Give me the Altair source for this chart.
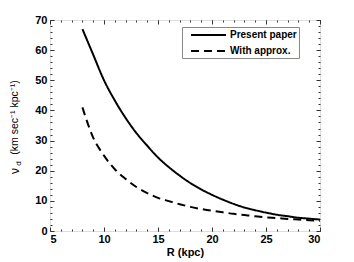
import altair as alt
import pandas as pd

R = [8, 9, 10, 11, 12, 13, 14, 15, 16, 17, 18, 19, 20, 21, 22, 23, 24, 25, 26, 27, 28, 29, 30]
present = [67, 58.5, 50, 43.3, 37.5, 32.5, 28.3, 24.4, 21.2, 18.4, 15.9, 13.8, 12.0, 10.4, 9.0, 7.8, 6.9, 6.1, 5.4, 4.9, 4.4, 4.1, 3.8]
approx = [41, 31, 25, 20.5, 17.3, 14.6, 12.6, 11.0, 9.9, 8.9, 8.0, 7.3, 6.7, 6.2, 5.7, 5.3, 4.9, 4.55, 4.3, 4.0, 3.8, 3.6, 3.4]
series_names = ["Present paper", "With approx."]
x_major = [5, 10, 15, 20, 25, 30]
x_minor = list(range(5, 31))
y_major = [0, 10, 20, 30, 40, 50, 60, 70]
y_minor = list(range(0, 71, 2))

df = pd.DataFrame({
    "R": R * 2,
    "v": present + approx,
    "series": [series_names[0]] * len(R) + [series_names[1]] * len(R),
})
one = pd.DataFrame({"k": [0]})

FONT = "Liberation Sans"
xs = alt.Scale(domain=[5, 30], nice=False, zero=False)
ys = alt.Scale(domain=[0, 70], nice=False)

lines = alt.Chart(df).mark_line(strokeWidth=2, color="black", interpolate="monotone").encode(
    x=alt.X("R:Q", scale=xs, axis=alt.Axis(
        orient="bottom", values=x_major, ticks=False, domain=False, grid=False,
        labelFont=FONT, labelFontWeight="bold", labelFontSize=11, labelColor="black",
        labelPadding=2, title="R (kpc)", titleFont=FONT, titleFontWeight="bold",
        titleFontSize=11, titleColor="black", titlePadding=2)),
    y=alt.Y("v:Q", scale=ys, axis=alt.Axis(
        orient="left", values=y_major, ticks=False, domain=False, grid=False,
        labelFont=FONT, labelFontWeight="bold", labelFontSize=11, labelColor="black",
        labelPadding=3, title="(km sec⁻¹ kpc⁻¹)", titleFont=FONT, titleFontWeight="normal",
        titleFontSize=10.5, titleColor="black", titleX=-36, titleY=97,
        titleAngle=-90, titleBaseline="middle", titleAlign="center")),
    strokeDash=alt.StrokeDash("series:N",
        scale=alt.Scale(domain=series_names, range=[[1, 0], [8, 5]]),
        sort=series_names,
        legend=alt.Legend(title=None, orient="none", legendX=132, legendY=7,
            strokeColor="#888", fillColor="white", padding=2,
            symbolType="M0.2,0H7.2", symbolSize=100, symbolStrokeWidth=2,
            symbolStrokeColor="black", labelFont=FONT, labelFontWeight="bold",
            labelFontSize=10, labelColor="black", rowPadding=5, labelOffset=34,
            labelExpr="datum.label + '\u00a0\u00a0\u00a0\u00a0'")),
)


def tick_layer(xo, yo, xvals, yvals, size):
    return alt.Chart(df).mark_line(strokeOpacity=0).encode(
        x=alt.X("R:Q", scale=xs, axis=alt.Axis(
            orient=xo, values=xvals, labels=False, domain=False, grid=False,
            ticks=True, tickSize=size, offset=-size, tickColor="#333",
            tickWidth=1, title=None)),
        y=alt.Y("v:Q", scale=ys, axis=alt.Axis(
            orient=yo, values=yvals, labels=False, domain=False, grid=False,
            ticks=True, tickSize=size, offset=-size, tickColor="#333",
            tickWidth=1, title=None)),
    )


nu = alt.Chart(one).mark_text(text="ν", font=FONT, fontSize=12, angle=270,
                              color="black").encode(
    x=alt.value(-35.5), y=alt.value(151))
sub = alt.Chart(one).mark_text(text="d", font=FONT, fontSize=8, angle=270,
                               color="black").encode(
    x=alt.value(-31.5), y=alt.value(143.5))

chart = alt.layer(
    lines,
    tick_layer("bottom", "left", x_major, y_major, 4),
    tick_layer("top", "right", x_major, y_major, 4),
    tick_layer("bottom", "left", x_minor, y_minor, 2),
    tick_layer("top", "right", x_minor, y_minor, 2),
    nu, sub,
).resolve_axis(x="independent", y="independent").properties(
    width=270, height=211,
    autosize=alt.AutoSizeParams(type="none"),
    padding={"left": 42, "top": 12, "right": 26, "bottom": 31},
).configure_view(stroke="#333", strokeWidth=1).configure(background="white")

chart.save("out.html", embed_options={"renderer": "svg", "actions": False})
